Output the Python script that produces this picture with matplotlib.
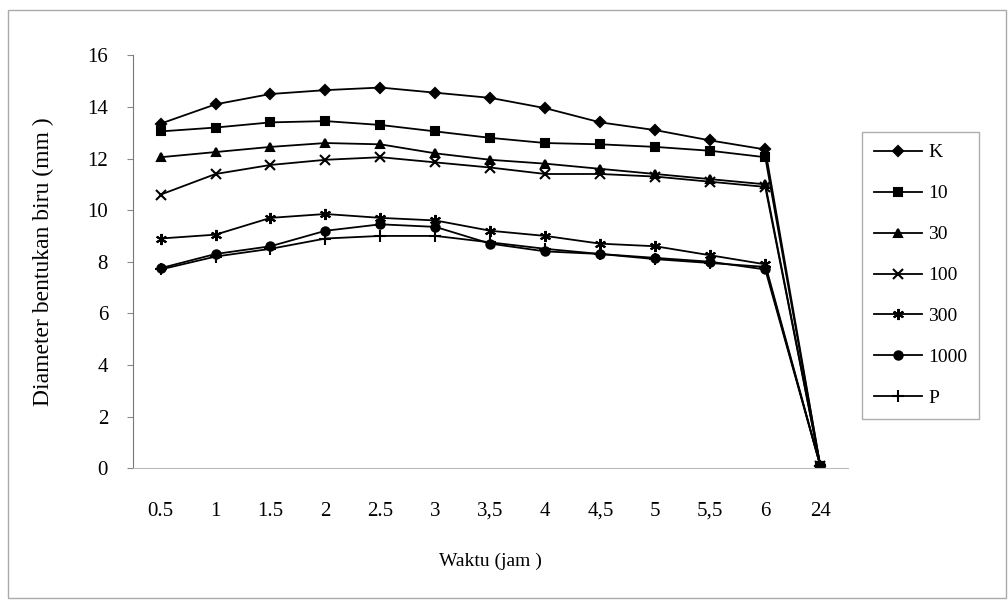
import matplotlib
matplotlib.use("Agg")
import matplotlib.pyplot as plt
from matplotlib.patches import Rectangle

plt.rcParams['font.family'] = ['Liberation Serif', 'DejaVu Serif']

waktu = ["0.5", "1", "1.5", "2", "2.5", "3", "3,5", "4", "4,5", "5", "5,5", "6", "24"]
k = [13.35, 14.1, 14.5, 14.65, 14.75, 14.55, 14.35, 13.95, 13.4, 13.1, 12.7, 12.35, 0.1]
d10 = [13.05, 13.2, 13.4, 13.45, 13.3, 13.05, 12.8, 12.6, 12.55, 12.45, 12.3, 12.05, 0.1]
d30 = [12.05, 12.25, 12.45, 12.6, 12.55, 12.2, 11.95, 11.8, 11.6, 11.4, 11.2, 11.0, 0.1]
d100 = [10.6, 11.4, 11.75, 11.95, 12.05, 11.85, 11.65, 11.4, 11.4, 11.3, 11.1, 10.9, 0.1]
d300 = [8.9, 9.05, 9.7, 9.85, 9.7, 9.6, 9.2, 9.0, 8.7, 8.6, 8.25, 7.9, 0.1]
d1000 = [7.75, 8.3, 8.6, 9.2, 9.45, 9.35, 8.7, 8.4, 8.3, 8.15, 8.0, 7.7, 0.1]
p = [7.7, 8.2, 8.5, 8.9, 9.0, 9.0, 8.75, 8.5, 8.3, 8.1, 7.95, 7.8, 0.1]

names = ["K", "10", "30", "100", "300", "1000", "P"]
series = [k, d10, d30, d100, d300, d1000, p]
markers = ["D", "s", "^", "x", (6, 2, 0), "o", "+"]
msizes = [5, 6, 6, 7, 8, 6, 9]

fig = plt.figure(figsize=(10.08, 6.01), dpi=100)
ax = fig.add_axes([0.132, 0.221, 0.709, 0.687])

xs = list(range(len(waktu)))
for name, ys, m, ms in zip(names, series, markers, msizes):
    ax.plot(xs, ys, color="black", lw=1.3, marker=m, markersize=ms,
            markeredgewidth=1.5, label=name)

ax.set_xlim(-0.5, len(waktu) - 0.5)
ax.set_ylim(0, 16)
ax.set_yticks(range(0, 17, 2))
ax.set_xticks(xs)
ax.set_xticklabels(waktu)
ax.tick_params(axis="both", labelsize=15, length=4, color="#888888")
ax.tick_params(axis="y", pad=14)
ax.tick_params(axis="x", length=0, pad=24)
for s in ["top", "right"]:
    ax.spines[s].set_visible(False)
ax.spines["left"].set_color("#777777")
ax.spines["bottom"].set_color("#bbbbbb")

ax.set_xlabel("Waktu (jam )", fontsize=14, labelpad=23)
ax.set_ylabel("Diameter bentukan biru (mm )", fontsize=17, labelpad=24)

leg = fig.legend(loc="upper left", bbox_to_anchor=(0.855, 0.780), borderaxespad=0,
                 fontsize=14, frameon=True, fancybox=False, edgecolor="#999999",
                 labelspacing=1.2, handlelength=2.5, handletextpad=0.3,
                 borderpad=0.6)
leg.get_frame().set_linewidth(1.0)

fig.patches.append(Rectangle((0.008, 0.005), 0.99, 0.978, transform=fig.transFigure,
                             fill=False, edgecolor="#aaaaaa", lw=1.0))

fig.savefig("out.png", dpi=100)
